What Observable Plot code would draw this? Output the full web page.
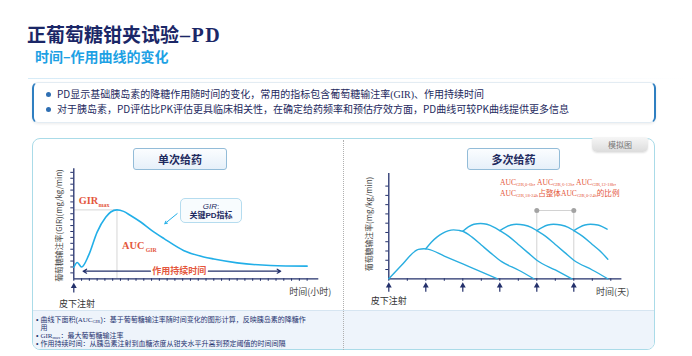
<!DOCTYPE html>
<html><head><meta charset="utf-8">
<script src="https://cdn.jsdelivr.net/npm/d3@7"></script>
<script src="https://cdn.jsdelivr.net/npm/@observablehq/plot@0.6"></script>
<style>
html,body{margin:0;padding:0}
body{width:692px;height:356px;position:relative;overflow:hidden;background:#fff;font-family:"Noto Sans CJK SC","Noto Sans",sans-serif;}
.a{position:absolute;white-space:nowrap}
.serif{font-family:"Liberation Serif","DejaVu Serif",serif}
#title{left:27px;top:24px;font-size:19px;line-height:19px;font-weight:700;color:#1b2767;}
#title .serif{font-size:20px;letter-spacing:1.5px;margin-left:1px}
#sub{left:35px;top:49px;font-size:14px;line-height:14px;font-weight:700;color:#1da1e4;}
#hr{left:28px;top:78px;width:660px;height:1px;background:linear-gradient(90deg,#d6ebf7,#eef6fb 70%,#fff)}
#bul{left:32px;top:82px;width:620px;height:39px;border:1px solid #e3ecf3;border-left:2px solid #2f7fc1;border-right:2px solid #2f7fc1;border-radius:6px;box-shadow:0 1px 3px rgba(0,0,0,.08)}
.bl{font-size:10px;line-height:10px;color:#1e2a5e;left:57px}
.dot{width:5px;height:5px;border-radius:50%;background:#2f6fb3;left:46px}
#panel{left:32px;top:138px;width:621px;height:210px;border:1.5px solid #aadbe8;border-radius:8px;overflow:hidden}
#strip{position:absolute;left:0;right:0;top:170.5px;bottom:0;background:#eef4fb;border-top:1px solid #d6e5f1}
#div{left:343px;top:140px;height:210px;border-left:1px dotted #b0b0b0}
#tab{left:592px;top:137px;width:56px;height:15px;background:linear-gradient(#f6f6f6,#dcdcdc);border-radius:3px 3px 5px 5px;font-size:8px;line-height:15px;color:#777;text-align:center;box-shadow:0 1px 2px rgba(0,0,0,.12)}
.hb{border:1px solid #93bcd8;border-radius:3px;background:linear-gradient(#fbfdff,#e6f0f9);font-size:11px;font-weight:700;color:#1e2a5e;text-align:center;line-height:20px;height:20px}
#gbox{left:180px;top:198px;width:60px;height:23px;border:1px solid #b5dcef;border-radius:5px;background:#f8fcfe}
.gt{left:181px;width:60px;text-align:center;font-family:"Liberation Sans","Noto Sans CJK SC",sans-serif;font-size:8px;line-height:8px;color:#1e2a5e}
.bt{font-family:"Liberation Sans","Noto Sans CJK SC",sans-serif;font-size:7px;line-height:7px;height:7px;color:#1f3370}
.auc{font-size:7.6px;line-height:7.6px;color:#e4573d}
.s{font-size:4.6px;position:relative;top:1.3px}
.s2{font-size:4.6px;position:relative;top:0.8px}
</style></head><body>
<div id="title" class="a">正葡萄糖钳夹试验<span class="serif">–PD</span></div>
<div id="sub" class="a">时间–作用曲线的变化</div>
<div id="hr" class="a"></div>
<div id="bul" class="a"></div>
<div class="a dot" style="top:91.5px"></div>
<div class="a bl" style="top:88.5px">PD显示基础胰岛素的降糖作用随时间的变化，常用的指标包含葡萄糖输注率<span class="serif">(GIR)</span>、作用持续时间</div>
<div class="a dot" style="top:106.5px"></div>
<div class="a bl" style="top:103.5px">对于胰岛素，PD评估比PK评估更具临床相关性，在确定给药频率和预估疗效方面，PD曲线可较PK曲线提供更多信息</div>
<div id="panel" class="a"><div id="strip"></div></div>
<div id="div" class="a"></div>
<div id="tab" class="a">模拟图</div>
<div class="a hb" style="left:133px;top:148px;width:92px">单次给药</div>
<div class="a hb" style="left:467px;top:148px;width:91px">多次给药</div>
<div id="left" class="a" style="left:40px;top:160px"></div>
<div id="right" class="a" style="left:345px;top:160px"></div>
<div id="gbox" class="a"></div>
<div class="a gt" style="top:202.5px"><i>GIR</i>:</div>
<div class="a gt" style="top:211.8px"><b>关键PD指标</b></div>
<div class="a auc" style="left:500px;top:178px"><span class="serif">AUC<span class="s">GIR,0-6h</span>, AUC<span class="s">GIR,6-12h</span>, AUC<span class="s">GIR,12-18h</span>,</span></div>
<div class="a auc" style="left:500px;top:188.8px"><span class="serif">AUC<span class="s">GIR,18-24h</span></span>占整体<span class="serif">AUC<span class="s">GIR,0-24h</span></span>的比例</div>
<div class="a bt" style="left:36px;top:316.3px">•&nbsp;曲线下面积(<span class="serif">AUC<span class="s2">GIR</span></span>)：基于葡萄糖输注率随时间变化的图形计算，反映胰岛素的降糖作</div>
<div class="a bt" style="left:40.5px;top:324.1px">用</div>
<div class="a bt" style="left:36px;top:332px">•&nbsp;<span class="serif">GIR<span class="s2">max</span></span>：最大葡萄糖输注率</div>
<div class="a bt" style="left:36px;top:339.8px">•&nbsp;作用持续时间：从胰岛素注射到血糖浓度从钳夹水平升高到预定阈值的时间间隔</div>
<script>
// ---- single dose (hours, GIR) ----
const singleHours = [0, 0.45, 1.0, 1.9, 3.0, 4.1, 4.75, 5.55, 6.4, 7.3, 8.6, 10, 11.6, 14.1, 16.7, 18, 21, 25.3, 30];
const singleGIR   = [1.95, 2.75, 2.0, 3.95, 7.9, 10.4, 11.3, 11.65, 11.4, 10.7, 9.6, 8.2, 6.8, 4.8, 3.7, 3.35, 2.7, 2.25, 2.14];
const singleXTicks = d3.range(0, 31, 1);
const singleYTicks = d3.range(1, 19, 1);
const girMax = {h: 5.55, g: 11.65};

// ---- multiple dose (days, GIR), one curve per injection ----
const doseDays = [0, 1, 2, 3, 4, 5];
const multiDay = [
  [0, 0.35, 0.7, 0.8, 0.95, 1.05, 1.5, 2.0, 2.5, 2.93],
  [1.0, 1.15, 1.3, 1.45, 1.6, 1.75, 1.9, 2.0, 2.25, 2.5, 2.75, 3.05, 3.5, 3.92],
  [2.0, 2.15, 2.3, 2.48, 2.65, 2.85, 3.0, 3.25, 3.5, 3.75, 4.0, 4.5, 4.95],
  [3.0, 3.15, 3.3, 3.45, 3.65, 3.85, 4.0, 4.25, 4.5, 4.75, 5.0, 5.5, 5.92],
  [4.0, 4.15, 4.3, 4.45, 4.65, 4.85, 5.0, 5.25, 5.5, 5.75, 5.92],
  [5.0, 5.15, 5.3, 5.45, 5.65, 5.9]
];
const multiGIR = [
  [0, 1.48, 2.95, 3.18, 3.24, 3.2, 2.45, 1.6, 0.75, 0],
  [3.24, 3.95, 4.5, 4.9, 5.17, 5.28, 5.22, 5.13, 4.5, 3.65, 2.8, 1.85, 0.95, 0],
  [5.13, 5.6, 5.88, 5.97, 5.88, 5.55, 5.2, 4.55, 3.7, 2.85, 2.0, 0.95, 0],
  [5.2, 5.55, 5.8, 5.88, 5.8, 5.55, 5.2, 4.55, 3.7, 2.85, 2.0, 0.95, 0],
  [5.2, 5.55, 5.8, 5.88, 5.8, 5.55, 5.2, 4.55, 3.7, 2.85, 2.1],
  [5.2, 5.55, 5.8, 5.88, 5.8, 5.35]
];
const multiXTicks = d3.range(0, 6.01, 0.5);
const multiYTicks = d3.range(1, 11, 1);
const bracketDays = [4, 5];
const bracketLevel = 7.37;

const navy = "#23306b";
const blue = "#22afe8";
const red = "#e4573d";
const serif = "Liberation Serif";

const singleRows = singleHours.map((h, i) => ({h, g: singleGIR[i]}));
const multiRows = multiDay.flatMap((days, k) => days.map((d, i) => ({dose: k, day: d, gir: multiGIR[k][i]})));

const left = Plot.plot({
  width: 300, height: 150,
  marginLeft: 33.3, marginRight: 21.7, marginTop: 8.3, marginBottom: 31.7,
  x: {domain: [0, 31.5]}, y: {domain: [0, 18.6]},
  style: {background: "transparent", overflow: "visible", fontFamily: "Noto Sans CJK SC"},
  marks: [
    Plot.ruleY([girMax.g], {x1: 0, x2: girMax.h, stroke: "#d6d6d6", strokeWidth: 1}),
    Plot.ruleX([girMax.h], {y1: 0, y2: girMax.g, stroke: "#d6d6d6", strokeWidth: 1}),
    Plot.axisX({ticks: singleXTicks, tickSize: 2.5, tickFormat: () => "", label: null, stroke: navy}),
    Plot.axisY({ticks: singleYTicks, tickSize: 3, tickFormat: () => "", label: null, stroke: navy}),
    Plot.ruleY([0], {stroke: navy, strokeWidth: 1.3}),
    Plot.ruleX([0], {stroke: navy, strokeWidth: 1.3}),
    Plot.line(singleRows, {x: "h", y: "g", curve: "monotone-x", stroke: blue, strokeWidth: 1.6}),
    Plot.arrow([0], {x1: 9.85, x2: 1.2, y1: 1.29, y2: 1.29, stroke: navy, strokeWidth: 1.2, headLength: 5}),
    Plot.arrow([0], {x1: 17.3, x2: 26.6, y1: 1.29, y2: 1.29, stroke: navy, strokeWidth: 1.2, headLength: 5}),
    Plot.text(["作用持续时间"], {x: 13.55, y: 1.29, text: d => d, fill: red, fontWeight: "bold", fontSize: 9}),
    Plot.arrow([0], {x1: 13.29, y1: 11.02, x2: 11.7, y2: 9.32, stroke: blue, strokeWidth: 1, headLength: 4}),
    Plot.text(["GIR"], {x: 0.64, y: 12.59, text: d => d, textAnchor: "start", lineAnchor: "bottom", fill: red, fontWeight: "bold", fontSize: 10.3, fontFamily: serif}),
    Plot.text(["max"], {x: 3.16, y: 12.17, text: d => d, textAnchor: "start", lineAnchor: "bottom", fill: red, fontWeight: "bold", fontSize: 6, fontFamily: serif}),
    Plot.text(["AUC"], {x: 6.2, y: 4.97, text: d => d, textAnchor: "start", lineAnchor: "bottom", fill: red, fontWeight: "bold", fontSize: 10.3, fontFamily: serif}),
    Plot.text(["GIR"], {x: 9.24, y: 4.54, text: d => d, textAnchor: "start", lineAnchor: "bottom", fill: red, fontWeight: "bold", fontSize: 5.8, fontFamily: serif}),
    Plot.ruleX([0], {y1: -2.4, y2: -1.3, stroke: navy, strokeWidth: 1.2}),
    Plot.dot([0], {x: 0, y: -1.25, symbol: "triangle", r: 2.2, fill: navy}),
    Plot.text(["时间(小时)"], {x: 30.4, y: -2.3, text: d => d, fill: "#444", fontSize: 9}),
    Plot.text(["皮下注射"], {x: 0.4, y: -4.2, text: d => d, fill: "#333", fontSize: 9}),
    Plot.text(["葡萄糖输注率(GIR)(mg/kg/min)"], {x: -1.84, y: 9.0, text: d => d, rotate: -90, fill: "#444", fontSize: 7.9})
  ]
});
document.getElementById("left").append(left);

const right = Plot.plot({
  width: 300, height: 150,
  marginLeft: 43.3, marginRight: 23.6, marginTop: 13, marginBottom: 31.7,
  x: {domain: [0, 6.3]}, y: {domain: [0, 11.36]},
  style: {background: "transparent", overflow: "visible", fontFamily: "Noto Sans CJK SC"},
  marks: [
    Plot.ruleX(bracketDays, {y1: 0, y2: bracketLevel, stroke: "#d2d2d2", strokeWidth: 1}),
    Plot.ruleY([bracketLevel], {x1: bracketDays[0], x2: bracketDays[1], stroke: "#d2d2d2", strokeWidth: 1}),
    Plot.dot(bracketDays, {x: d => d, y: bracketLevel, r: 2.5, fill: "#a3a3a3"}),
    Plot.axisX({ticks: multiXTicks, tickSize: 2.5, tickFormat: () => "", label: null, stroke: navy}),
    Plot.axisY({ticks: multiYTicks, tickSize: 3, tickFormat: () => "", label: null, stroke: navy}),
    Plot.ruleY([0], {stroke: navy, strokeWidth: 1.3}),
    Plot.ruleX([0], {stroke: navy, strokeWidth: 1.3}),
    Plot.line(multiRows, {x: "day", y: "gir", z: "dose", curve: "monotone-x", stroke: "#2aaee0", strokeWidth: 1.4}),
    Plot.ruleX(doseDays, {y1: -1.45, y2: -0.8, stroke: navy, strokeWidth: 1.2}),
    Plot.dot(doseDays, {x: d => d, y: -0.75, symbol: "triangle", r: 2.2, fill: navy}),
    Plot.text(["时间(天)"], {x: 6.05, y: -1.45, text: d => d, fill: "#444", fontSize: 9}),
    Plot.text(["皮下注射"], {x: 0, y: -2.42, text: d => d, fill: "#333", fontSize: 9}),
    Plot.text(["葡萄糖输注率(mg/kg/min)"], {x: -0.52, y: 5.91, text: d => d, rotate: -90, fill: "#444", fontSize: 7.9})
  ]
});
document.getElementById("right").append(right);
</script>
</body></html>
